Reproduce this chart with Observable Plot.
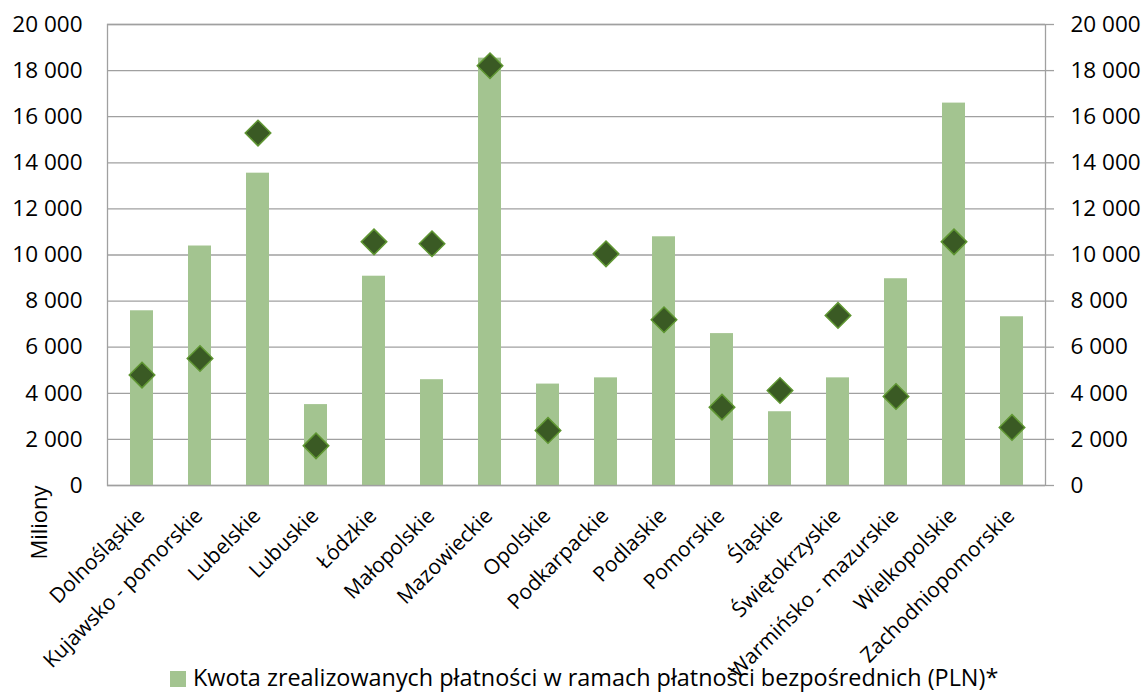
<!DOCTYPE html>
<html>
<head>
<meta charset="utf-8">
<script src="https://cdn.jsdelivr.net/npm/d3@7"></script>
<script src="https://cdn.jsdelivr.net/npm/@observablehq/plot@0.6"></script>
<style>
  html, body { margin: 0; padding: 0; background: white; }
  #chart { width: 1146px; position: relative; }
  #chart svg { overflow: visible; position: relative; z-index: 1; }
  .legend { display: flex; align-items: center; height: 34px; padding-left: 170px; font-family: "Open Sans", sans-serif; font-size: 23.4px; color: #000; }
  .legend .sw { width: 16px; height: 16px; background: #a3c490; margin-right: 7px; margin-top: 3px; }
</style>
</head>
<body>
<div id="chart"></div>
<script>
const categories = ["Dolnośląskie", "Kujawsko - pomorskie", "Lubelskie", "Lubuskie", "Łódzkie", "Małopolskie", "Mazowieckie", "Opolskie", "Podkarpackie", "Podlaskie", "Pomorskie", "Śląskie", "Świętokrzyskie", "Warmińsko - mazurskie", "Wielkopolskie", "Zachodniopomorskie"];
const payments = [7580, 10390, 13550, 3510, 9080, 4590, 18540, 4400, 4670, 10790, 6590, 3200, 4670, 8970, 16590, 7320];
const secondSeries = [4790, 5510, 15290, 1720, 10570, 10490, 18210, 2390, 10050, 7190, 3400, 4120, 7380, 3860, 10570, 2520];
const yTicks = [0, 2000, 4000, 6000, 8000, 10000, 12000, 14000, 16000, 18000, 20000];
const legendLabel = "Kwota zrealizowanych płatności w ramach płatności bezpośrednich (PLN)*";
const yAxisLabel = "Miliony";

const bars = categories.map((c, i) => ({category: c, value: payments[i]}));
const points = categories.map((c, i) => ({category: c, value: secondSeries[i]}));
const fmt = d => d3.format(",")(d).replace(/,/g, " ");

const grid = "#a0a0a0";
const chart = Plot.plot({
  width: 1146,
  height: 660,
  marginTop: 24,
  marginBottom: 175,
  marginLeft: 107,
  marginRight: 101,
  style: {fontFamily: "Open Sans", fontSize: "22.5px", background: "transparent", color: "black", overflow: "visible"},
  x: {domain: categories, paddingInner: 0.61, paddingOuter: 0.305, axis: null},
  y: {domain: [0, 20000], axis: null},
  marks: [
    Plot.gridY(yTicks, {stroke: grid, strokeOpacity: 1, strokeWidth: 1.3}),
    Plot.barY(bars, {x: "category", y: "value", fill: "#a3c490"}),
    Plot.frame({stroke: grid, strokeWidth: 1.3}),
    Plot.dot(points, {x: "category", y: "value", symbol: "diamond2", r: 11.5, fill: "#3a5a24", stroke: "#5f9632", strokeWidth: 1.5}),
    Plot.axisY(yTicks, {anchor: "left", label: null, tickSize: 0, tickPadding: 25, tickFormat: fmt, fill: "black"}),
    Plot.axisY(yTicks, {anchor: "right", label: null, tickSize: 8, tickPadding: 17, tickFormat: fmt, stroke: grid, strokeWidth: 1.3, fill: "black"}),
    Plot.text(categories, {x: d => d, frameAnchor: "bottom", dy: 27, dx: -1, rotate: -45, textAnchor: "end", lineAnchor: "middle", fontSize: 21, fill: "black"}),
    Plot.text([yAxisLabel], {frameAnchor: "bottom-left", dx: -68, dy: 37, rotate: -90, textAnchor: "middle", lineAnchor: "middle", fontSize: 22, fill: "black"})
  ]
});
document.getElementById("chart").appendChild(chart);

const legend = document.createElement("div");
legend.className = "legend";
const sw = document.createElement("span");
sw.className = "sw";
const lt = document.createElement("span");
lt.textContent = legendLabel;
legend.appendChild(sw);
legend.appendChild(lt);
document.getElementById("chart").appendChild(legend);
</script>
</body>
</html>
